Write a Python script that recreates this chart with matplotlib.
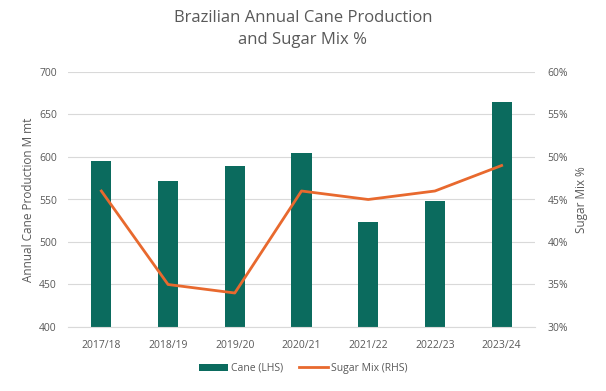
import matplotlib
matplotlib.use("Agg")
import matplotlib.pyplot as plt
from matplotlib.ticker import FuncFormatter

seasons = ["2017/18", "2018/19", "2019/20", "2020/21", "2021/22", "2022/23", "2023/24"]
cane = [595, 572, 589, 605, 523, 548, 665]
sugar_mix = [46, 35, 34, 46, 45, 46, 49]

plt.rcParams['font.family'] = ['Open Sans', 'DejaVu Sans']
txt = '#595959'

fig = plt.figure(figsize=(6.06, 3.91), dpi=100)
ax = fig.add_axes([68/606, 1-327/391, (535-68)/606, (327-72)/391])
x = list(range(len(seasons)))
bars = ax.bar(x, cane, width=0.3, color='#0B6B5E', label='Cane (LHS)', zorder=2)
ax.set_ylim(400, 700)
ax.set_xlim(-0.5, len(seasons) - 0.5)
ax.set_yticks(range(400, 701, 50))
ax.grid(axis='y', color='#d9d9d9', linewidth=0.8, zorder=0)
ax.set_xticks(x)
ax.set_xticklabels(seasons)
for s in ax.spines.values():
    s.set_visible(False)
ax.spines['bottom'].set_visible(True)
ax.spines['bottom'].set_color('#d9d9d9')
ax.tick_params(length=0, labelsize=7.5, colors=txt)
ax.tick_params(axis='x', pad=9)
ax.tick_params(axis='y', pad=8)
ax.set_ylabel('Annual Cane Production M mt', fontsize=8.5, color=txt, labelpad=3)

ax2 = ax.twinx()
line, = ax2.plot(x, sugar_mix, color='#E8692E', linewidth=2, label='Sugar Mix (RHS)', zorder=3)
ax2.set_ylim(30, 60)
ax2.set_yticks(range(30, 61, 5))
ax2.yaxis.set_major_formatter(FuncFormatter(lambda v, p: f"{v:.0f}%"))
for s in ax2.spines.values():
    s.set_visible(False)
ax2.tick_params(length=0, labelsize=7.5, colors=txt, pad=9)
ax2.set_ylabel('Sugar Mix %', fontsize=8.5, color=txt, labelpad=5)

fig.suptitle('Brazilian Annual Cane Production\nand Sugar Mix %', fontsize=12, color=txt, y=0.975, linespacing=1.5)
fig.legend([bars, line], ['Cane (LHS)', 'Sugar Mix (RHS)'], loc='lower center',
           bbox_to_anchor=(0.5, 0.02), ncol=2, frameon=False, fontsize=7.5,
           labelcolor=txt, handlelength=2.8, columnspacing=1.5, handletextpad=0.3)

fig.savefig('out.png', dpi=100, facecolor='white')
